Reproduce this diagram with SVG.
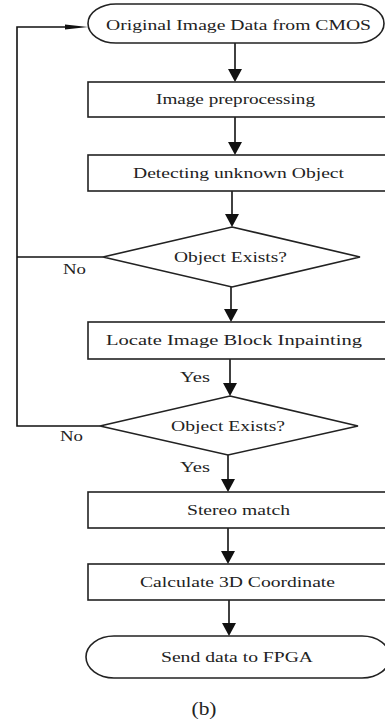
<svg xmlns="http://www.w3.org/2000/svg" width="385" height="721" viewBox="0 0 385 721">
<defs>
<style>
.shape{fill:#fff;stroke:#222;stroke-width:1.6}
.ln{fill:none;stroke:#111;stroke-width:1.6}
.ah{fill:#111;stroke:none}
.t{font-family:"Liberation Serif","Times New Roman",serif;font-size:14px;fill:#222;text-anchor:middle}
.lbl{font-family:"Liberation Serif","Times New Roman",serif;font-size:14px;fill:#222}
</style>
</defs>
<rect width="385" height="721" fill="#fff"/>
<g id="connectors">
<line class="ln" x1="235" y1="43" x2="235" y2="70"/><path class="ah" d="M228,69 L242,69 L235,82 Z"/>
<line class="ln" x1="235" y1="117" x2="235" y2="143"/><path class="ah" d="M228,142 L242,142 L235,155 Z"/>
<line class="ln" x1="232" y1="191" x2="232" y2="215"/><path class="ah" d="M225,214 L239,214 L232,227 Z"/>
<line class="ln" x1="231" y1="287" x2="231" y2="310"/><path class="ah" d="M224,309 L238,309 L231,322 Z"/>
<line class="ln" x1="230" y1="359" x2="230" y2="384"/><path class="ah" d="M223,383 L237,383 L230,396 Z"/>
<line class="ln" x1="228" y1="455" x2="228" y2="480"/><path class="ah" d="M221,479 L235,479 L228,492 Z"/>
<line class="ln" x1="228" y1="528" x2="228" y2="552"/><path class="ah" d="M221,551 L235,551 L228,564 Z"/>
<line class="ln" x1="229" y1="600" x2="229" y2="624"/><path class="ah" d="M222,623 L236,623 L229,636 Z"/>
<polyline class="ln" points="103,257 17,257"/>
<polyline class="ln" points="100,426 17,426 17,27 70,27"/>
<path class="ah" d="M65,24.5 L88,27 L65,29.5 Z"/>
<text class="lbl" x="63" y="274" textLength="23" lengthAdjust="spacingAndGlyphs">No</text>
<text class="lbl" x="60" y="441" textLength="23" lengthAdjust="spacingAndGlyphs">No</text>
<text class="lbl" x="180" y="382" textLength="30" lengthAdjust="spacingAndGlyphs">Yes</text>
<text class="lbl" x="180" y="472" textLength="30" lengthAdjust="spacingAndGlyphs">Yes</text>
</g>
<g id="start">
<rect class="shape" x="88" y="4" width="296" height="39" rx="28" ry="19.5"/>
<text class="t" x="238.5" y="30" textLength="265" lengthAdjust="spacingAndGlyphs">Original Image Data from CMOS</text>
</g>
<g id="preprocess">
<rect class="shape" x="88" y="82" width="320" height="35"/>
<text class="t" x="235.5" y="104" textLength="159" lengthAdjust="spacingAndGlyphs">Image preprocessing</text>
</g>
<g id="detect">
<rect class="shape" x="88" y="155" width="320" height="36"/>
<text class="t" x="238.5" y="178" textLength="211" lengthAdjust="spacingAndGlyphs">Detecting unknown Object</text>
</g>
<g id="decision1">
<polygon class="shape" points="232,227 360,257 232,287 103,257"/>
<text class="t" x="230.5" y="262" textLength="113" lengthAdjust="spacingAndGlyphs">Object Exists?</text>
</g>
<g id="locate">
<rect class="shape" x="88" y="322" width="320" height="37"/>
<text class="t" x="234" y="345" textLength="256" lengthAdjust="spacingAndGlyphs">Locate Image Block Inpainting</text>
</g>
<g id="decision2">
<polygon class="shape" points="230,396 358,426 228,455 100,426"/>
<text class="t" x="228" y="431" textLength="114" lengthAdjust="spacingAndGlyphs">Object Exists?</text>
</g>
<g id="stereo">
<rect class="shape" x="88" y="492" width="320" height="36"/>
<text class="t" x="238.5" y="515" textLength="103" lengthAdjust="spacingAndGlyphs">Stereo match</text>
</g>
<g id="calc3d">
<rect class="shape" x="88" y="564" width="320" height="36"/>
<text class="t" x="237.5" y="587" textLength="195" lengthAdjust="spacingAndGlyphs">Calculate 3D Coordinate</text>
</g>
<g id="end">
<rect class="shape" x="86" y="636" width="304" height="42" rx="28" ry="21"/>
<text class="t" x="237" y="662" textLength="152" lengthAdjust="spacingAndGlyphs">Send data to FPGA</text>
</g>
<g id="caption">
<text class="t" x="204" y="715" style="font-size:18px" textLength="25" lengthAdjust="spacingAndGlyphs">(b)</text>
</g>
</svg>
